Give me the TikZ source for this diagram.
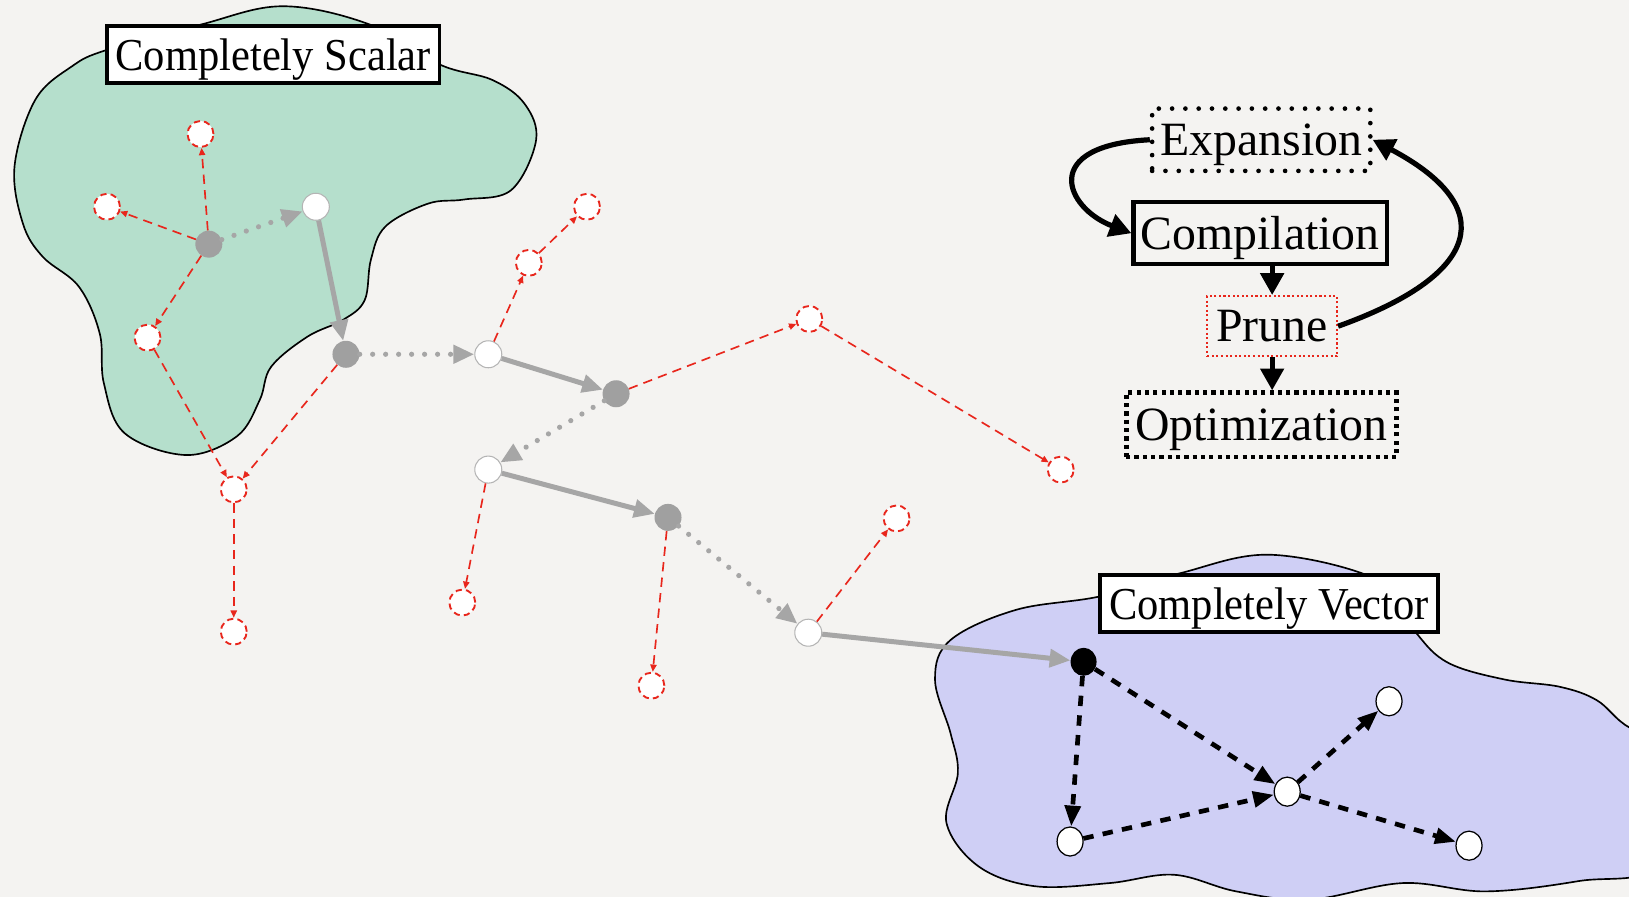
\documentclass[tikz,border=0pt]{standalone}
\usepackage{fontspec}
\setmainfont{Liberation Serif}
\newfontfamily\narrowserif{Liberation Serif}[FakeStretch=0.93]
\usetikzlibrary{arrows.meta,shapes.geometric}

\definecolor{paper}{HTML}{F4F3F1}
\definecolor{scalarfill}{HTML}{B5DFCC}
\definecolor{vectorfill}{HTML}{CFCFF5}
\definecolor{nodegray}{HTML}{A0A0A0}
\definecolor{edgegray}{HTML}{A6A6A6}
\definecolor{ringgray}{HTML}{B4B4B4}
\definecolor{prunered}{HTML}{E8261C}

\begin{document}
\begin{tikzpicture}[x=1pt,y=-1pt,
  gnode/.style={circle, fill=nodegray, minimum size=26pt, inner sep=0pt},
  wnode/.style={circle, fill=white, draw=ringgray, line width=1pt, minimum size=26pt, inner sep=0pt},
  rnode/.style={circle, fill=white, draw=prunered, line width=1.8pt, dash pattern=on 6pt off 4pt, minimum size=25pt, inner sep=0pt},
  vnode/.style={ellipse, fill=white, draw=black, line width=1.2pt, minimum width=25pt, minimum height=28pt, inner sep=0pt},
  vstart/.style={ellipse, fill=black, minimum width=25pt, minimum height=27pt, inner sep=0pt},
  dotarrow/.style={draw=edgegray, line width=5pt, line cap=round, dash pattern=on 0pt off 12.5pt, -{Triangle[length=20pt,width=17pt]}},
  solidarrow/.style={draw=edgegray, line width=4.8pt, -{Triangle[length=20pt,width=17pt]}},
  redarrow/.style={draw=prunered, line width=1.6pt, dash pattern=on 9pt off 6pt, -{Triangle[length=7pt,width=6pt]}},
  blackarrow/.style={draw=black, line width=4.5pt, dash pattern=on 10pt off 9pt, -{Triangle[length=20pt,width=15pt]}},
  flowarrow/.style={draw=black, line width=5pt, -{Triangle[length=21pt,width=22pt]}},
  regionlabel/.style={draw=black, fill=white, line width=3.5pt, inner sep=0pt, minimum height=55pt, text depth=0pt, font=\narrowserif\fontsize{44}{48}\selectfont},
  flowbox/.style={inner sep=0pt, minimum height=60pt, text depth=0pt, font=\fontsize{46}{50}\selectfont}
]
\useasboundingbox (0,0) rectangle (1568,863);
\fill[paper] (0,0) rectangle (1568,863);

% the two regions
\begin{scope}
\clip (0,0) rectangle (1568,863);
\draw[fill=scalarfill, line width=1.6pt] plot[smooth cycle, tension=0.6] coordinates {
  (103,48) (69,64) (34,96) (14,160) (22,215) (41,247) (76,276) (96,321)
  (100,369) (120,417) (179,438) (228,420) (250,385) (261,353) (296,324)
  (330,308) (351,289) (357,250) (371,218) (412,196) (447,192) (492,183)
  (516,135) (505,100) (474,77) (423,62) (357,24) (272,6) (192,24)};
\draw[fill=vectorfill, line width=1.6pt] plot[smooth cycle, tension=0.6] coordinates {
  (1059,574) (978,587) (915,616) (900,654) (915,706) (922,744) (911,792)
  (942,834) (996,853) (1068,850) (1130,842) (1190,858) (1260,866)
  (1350,850) (1430,858) (1520,848) (1600,830) (1620,720) (1568,700)
  (1537,674) (1501,661) (1448,654) (1394,638) (1363,609) (1330,560)
  (1224,534) (1135,552)};
\end{scope}

\node[regionlabel, minimum width=320pt] (scalarlbl) at (263,52.5) {Completely Scalar};
\node[regionlabel, minimum width=325pt] (vectorlbl) at (1221.5,581) {Completely Vector};

% search path nodes
\node[gnode] (g1) at (201,235) {};
\node[wnode] (w1) at (304,199) {};
\node[gnode] (g2) at (333,341) {};
\node[wnode] (w2) at (470,341) {};
\node[gnode] (g3) at (593,379) {};
\node[wnode] (w3) at (470,452) {};
\node[gnode] (g4) at (643,498) {};
\node[wnode] (w4) at (778,609) {};

% pruned candidates
\node[rnode] (r1) at (193,129) {};
\node[rnode] (r2) at (103,199) {};
\node[rnode] (r3) at (142,325) {};
\node[rnode] (r4) at (225,471) {};
\node[rnode] (r5) at (225,608) {};
\node[rnode] (r6) at (509,253) {};
\node[rnode] (r7) at (565,199) {};
\node[rnode] (r8) at (779,307) {};
\node[rnode] (r9) at (1021,452) {};
\node[rnode] (r10) at (445,580) {};
\node[rnode] (r11) at (627,660) {};
\node[rnode] (r12) at (863,499) {};

% vector region nodes
\node[vstart] (v0) at (1043,637) {};
\node[vnode] (v1) at (1239,762) {};
\node[vnode] (v2) at (1030,810) {};
\node[vnode] (v3) at (1337,675) {};
\node[vnode] (v4) at (1414,814) {};

% search path edges
\draw[dotarrow] (g1) -- (w1);
\draw[solidarrow] (w1) -- (g2);
\draw[dotarrow] (g2) -- (w2);
\draw[solidarrow] (w2) -- (g3);
\draw[dotarrow] (g3) -- (w3);
\draw[solidarrow] (w3) -- (g4);
\draw[dotarrow] (g4) -- (w4);
\draw[solidarrow] (w4) -- (v0);

% pruned expansions
\draw[redarrow] (g1) -- (r1);
\draw[redarrow] (g1) -- (r2);
\draw[redarrow] (g1) -- (r3);
\draw[redarrow] (r3) -- (r4);
\draw[redarrow] (g2) -- (r4);
\draw[redarrow] (r4) -- (r5);
\draw[redarrow] (w2) -- (r6);
\draw[redarrow] (r6) -- (r7);
\draw[redarrow] (g3) -- (r8);
\draw[redarrow] (r8) -- (r9);
\draw[redarrow] (w3) -- (r10);
\draw[redarrow] (g4) -- (r11);
\draw[redarrow] (w4) -- (r12);

% vector region edges
\draw[blackarrow] (v0) -- (v1);
\draw[blackarrow] (v0) -- (v2);
\draw[blackarrow] (v2) -- (v1);
\draw[blackarrow] (v1) -- (v3);
\draw[blackarrow] (v1) -- (v4);

% pipeline
\node[flowbox, minimum width=210pt, draw=black, line width=4.5pt, line cap=round, dash pattern=on 0pt off 12.8pt] (exp) at (1214,134.5) {Expansion};
\node[flowbox, minimum width=244pt, draw=black, line width=4pt] (comp) at (1213,224.5) {Compilation};
\node[flowbox, minimum width=125pt, minimum height=58pt, draw=prunered, line width=2pt, dash pattern=on 2pt off 2.4pt] (prune) at (1224.5,314) {Prune};
\node[flowbox, minimum width=260pt, minimum height=62pt, draw=black, line width=4.5pt, dash pattern=on 4pt off 4pt] (opt) at (1214,409) {Optimization};

\draw[flowarrow] (comp.south -| prune.north) -- (prune.north);
\draw[flowarrow] (prune.south) -- (opt.north -| prune.south);
\draw[flowarrow] (exp.west) .. controls (1000,140) and (1025,200) .. (comp.west);
\draw[flowarrow] (prune.east) .. controls (1425,265) and (1445,200) .. (exp.east);
\end{tikzpicture}
\end{document}
